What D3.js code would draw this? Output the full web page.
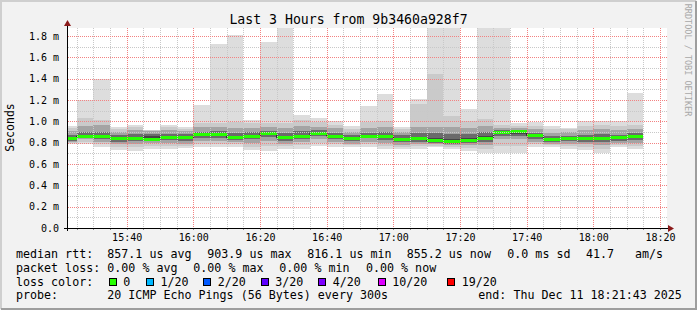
<!DOCTYPE html>
<html>
<head>
<meta charset="utf-8">
<script src="https://cdn.jsdelivr.net/npm/d3@7"></script>
<style>
  body { margin: 0; background: #f2f2f2; }
  svg { display: block; }
  text { font-family: "DejaVu Sans Mono", monospace; fill: #000; }
</style>
</head>
<body>
<svg id="chart" width="697" height="310"></svg>
<script>
/* ------------ Data ----------------*/
// end time of each 300s step (Dec 11 2025)
const binEnds = ['15:25', '15:30', '15:35', '15:40', '15:45', '15:50', '15:55', '16:00', '16:05', '16:10',
  '16:15', '16:20', '16:25', '16:30', '16:35', '16:40', '16:45', '16:50', '16:55', '17:00',
  '17:05', '17:10', '17:15', '17:20', '17:25', '17:30', '17:35', '17:40', '17:45', '17:50',
  '17:55', '18:00', '18:05', '18:10', '18:15'];

// sorted ping rtt per step, in ms
const ping20 = [0.956, 1.20, 1.40, 0.95, 0.965, 0.92, 0.97, 0.95, 1.153, 1.725, 1.81, 1.01, 1.747, 1.95, 1.06, 1.035, 1.005,
  0.956, 1.144, 1.256, 0.95, 1.21, 2.30, 2.00, 1.116, 2.10, 1.95, 0.987, 0.997, 0.956, 0.935, 1.006, 1.006, 1.006, 1.268];
const ping19 = [0.935, 1.03, 1.01, 0.93, 0.95, 0.915, 0.95, 0.93, 0.98, 0.98, 0.99, 0.98, 0.98, 0.98, 1.01, 0.99, 0.97,
  0.93, 0.99, 1.00, 0.93, 1.163, 1.444, 1.05, 1.00, 1.02, 0.966, 0.96, 0.96, 0.93, 0.925, 0.96, 0.97, 0.96, 0.97];
const ping17 = [0.905, 0.96, 0.97, 0.90, 0.92, 0.905, 0.92, 0.905, 0.95, 0.95, 0.94, 0.94, 0.95, 0.94, 0.96, 0.95, 0.94,
  0.90, 0.94, 0.95, 0.90, 0.95, 0.95, 0.95, 0.94, 0.96, 0.94, 0.94, 0.93, 0.895, 0.90, 0.92, 0.93, 0.92, 0.93];
const ping14 = [0.875, 0.90, 0.90, 0.87, 0.88, 0.885, 0.885, 0.88, 0.90, 0.91, 0.89, 0.90, 0.91, 0.89, 0.905, 0.92, 0.89,
  0.87, 0.89, 0.90, 0.87, 0.89, 0.89, 0.88, 0.88, 0.90, 0.915, 0.915, 0.89, 0.86, 0.865, 0.87, 0.88, 0.87, 0.895];
const ping12 = [0.855, 0.875, 0.875, 0.85, 0.855, 0.86, 0.865, 0.86, 0.882, 0.885, 0.86, 0.875, 0.90, 0.86, 0.875, 0.90, 0.87,
  0.85, 0.87, 0.87, 0.845, 0.855, 0.84, 0.835, 0.84, 0.86, 0.905, 0.905, 0.875, 0.84, 0.85, 0.85, 0.85, 0.855, 0.865];
const median = [0.841, 0.8625, 0.8625, 0.841, 0.841, 0.834, 0.853, 0.847, 0.872, 0.875, 0.844, 0.8625, 0.887, 0.844, 0.8625, 0.89, 0.8625,
  0.84, 0.86, 0.856, 0.834, 0.838, 0.816, 0.813, 0.822, 0.838, 0.897, 0.904, 0.866, 0.831, 0.84, 0.838, 0.838, 0.844, 0.855];
const ping9 = [0.832, 0.855, 0.85, 0.83, 0.83, 0.825, 0.84, 0.835, 0.86, 0.862, 0.835, 0.85, 0.87, 0.83, 0.85, 0.875, 0.85,
  0.83, 0.85, 0.84, 0.82, 0.825, 0.805, 0.80, 0.81, 0.825, 0.88, 0.885, 0.85, 0.82, 0.83, 0.825, 0.825, 0.83, 0.84];
const ping7 = [0.82, 0.845, 0.835, 0.81, 0.815, 0.815, 0.825, 0.82, 0.845, 0.845, 0.825, 0.835, 0.855, 0.815, 0.835, 0.86, 0.835,
  0.815, 0.84, 0.825, 0.805, 0.81, 0.795, 0.79, 0.795, 0.81, 0.86, 0.865, 0.835, 0.81, 0.815, 0.81, 0.81, 0.815, 0.825];
const ping4 = [0.805, 0.83, 0.81, 0.785, 0.79, 0.80, 0.80, 0.79, 0.82, 0.82, 0.81, 0.80, 0.82, 0.79, 0.81, 0.83, 0.81,
  0.79, 0.81, 0.80, 0.78, 0.79, 0.785, 0.775, 0.775, 0.78, 0.83, 0.83, 0.81, 0.79, 0.79, 0.79, 0.78, 0.795, 0.80];
const ping2 = [0.795, 0.81, 0.79, 0.76, 0.755, 0.77, 0.77, 0.77, 0.79, 0.79, 0.79, 0.76, 0.77, 0.765, 0.78, 0.80, 0.785,
  0.775, 0.785, 0.77, 0.76, 0.765, 0.77, 0.76, 0.75, 0.74, 0.77, 0.77, 0.785, 0.775, 0.765, 0.76, 0.74, 0.775, 0.77];
const ping1 = [0.785, 0.785, 0.76, 0.73, 0.725, 0.74, 0.74, 0.753, 0.76, 0.757, 0.76, 0.73, 0.725, 0.744, 0.744, 0.77, 0.76,
  0.76, 0.757, 0.74, 0.74, 0.74, 0.757, 0.74, 0.725, 0.70, 0.706, 0.706, 0.757, 0.757, 0.744, 0.73, 0.706, 0.757, 0.74];

const yTicks = [0, 0.2, 0.4, 0.6, 0.8, 1.0, 1.2, 1.4, 1.6, 1.8];
const yTickLabels = ['0.0', '0.2 m', '0.4 m', '0.6 m', '0.8 m', '1.0 m', '1.2 m', '1.4 m', '1.6 m', '1.8 m'];

const rttStats = ['857.1 us avg', '903.9 us max', '816.1 us min', '855.2 us now', '0.0 ms sd', '41.7', 'am/s'];
const lossStats = ['0.00 % avg', '0.00 % max', '0.00 % min', '0.00 % now'];
const lossLabels = ['0', '1/20', '2/20', '3/20', '4/20', '10/20', '19/20'];
const lossColors = ['#26ff00', '#00b8ff', '#0059ff', '#5e00ff', '#7e00ff', '#dd00ff', '#ff0000'];

/* ------------ Setup ----------------*/
const W = 697, H = 310;
const plotLeft = 67, plotTop = 28, plotW = 600, plotH = 200;
const parse = d3.timeParse('%Y-%m-%d %H:%M:%S');
const svg = d3.select('#chart');

const x = d3.scaleTime()
  .domain([parse('2025-12-11 15:22:06'), parse('2025-12-11 18:22:06')])
  .range([plotLeft, plotLeft + plotW]);
const y = d3.scaleLinear()
  .domain([0, 1.875])
  .range([plotTop + plotH, plotTop]);

const bins = binEnds.map((t, i) => {
  const end = parse('2025-12-11 ' + t + ':00');
  return { start: d3.timeMinute.offset(end, -5), end: end, i: i };
});

const defs = svg.append('defs');
const createDots = (id, w, h, color) => {
  const p = defs.append('pattern')
    .attr('id', id)
    .attr('patternUnits', 'userSpaceOnUse')
    .attr('width', w).attr('height', h);
  p.append('rect').attr('width', 1).attr('height', 1).attr('fill', color);
};
createDots('vMinor', 1, 2, '#c8c8c8');
createDots('hMinor', 2, 1, '#c8c8c8');
createDots('vMajor', 1, 2, '#f28282');
createDots('hMajor', 2, 1, '#f28282');

// frame
svg.append('rect').attr('width', W).attr('height', H).attr('fill', '#f2f2f2');
svg.append('path').attr('d', `M1,${H - 1} V1 H${W - 1}`).attr('fill', 'none').attr('stroke', '#cfcfcf').attr('stroke-width', 2);
svg.append('path').attr('d', `M1,${H - 1} H${W - 1} V1`).attr('fill', 'none').attr('stroke', '#9e9e9e').attr('stroke-width', 2);

svg.append('rect').attr('x', plotLeft).attr('y', plotTop).attr('width', plotW).attr('height', plotH).attr('fill', '#ffffff');

svg.append('clipPath').attr('id', 'plotClip')
  .append('rect').attr('x', plotLeft).attr('y', plotTop).attr('width', plotW).attr('height', plotH);

/* ------------ Smoke ----------------*/
const layers = [
  { lo: ping1, hi: ping20, color: '#dddddd' },
  { lo: ping2, hi: ping19, color: '#cacaca' },
  { lo: ping4, hi: ping17, color: '#a4a4a4' },
  { lo: ping7, hi: ping14, color: '#6b6b6b' },
  { lo: ping9, hi: ping12, color: '#454545' }
];

const plot = svg.append('g').attr('clip-path', 'url(#plotClip)');

layers.forEach((layer, li) => {
  plot.append('g').attr('class', 'smoke' + li)
    .selectAll('rect')
    .data(bins)
    .join('rect')
    .attr('x', d => x(d.start))
    .attr('width', d => x(d.end) - x(d.start))
    .attr('y', d => y(layer.hi[d.i]))
    .attr('height', d => y(layer.lo[d.i]) - y(layer.hi[d.i]))
    .attr('fill', layer.color)
    .attr('shape-rendering', 'crispEdges');
});

// median: dark step line + loss coloured band
const medPts = [];
bins.forEach(d => {
  medPts.push([x(d.start), y(median[d.i])]);
  medPts.push([x(d.end), y(median[d.i])]);
});
plot.append('path')
  .attr('d', d3.line()(medPts))
  .attr('fill', 'none')
  .attr('stroke', '#202020')
  .attr('stroke-width', 1);

plot.append('g').attr('class', 'medianBand')
  .selectAll('rect')
  .data(bins)
  .join('rect')
  .attr('x', d => x(d.start))
  .attr('width', d => x(d.end) - x(d.start))
  .attr('y', d => y(median[d.i]) - 1.5)
  .attr('height', 3)
  .attr('fill', lossColors[0])
  .attr('shape-rendering', 'crispEdges');

/* ------------ Grid ----------------*/
const grid = svg.append('g').attr('class', 'grid').attr('shape-rendering', 'crispEdges');
const majorX = x.ticks(d3.timeMinute.every(20));
const majorXs = majorX.map(d => +d);
const minorX = x.ticks(d3.timeMinute.every(5)).filter(d => !majorXs.includes(+d));
const minorY = d3.range(0.1, 1.85, 0.2);

const vLine = (cls, data, pat) => {
  grid.selectAll('rect.' + cls)
    .data(data)
    .join('rect')
    .attr('class', cls)
    .attr('x', d => Math.round(x(d))).attr('width', 1)
    .attr('y', plotTop).attr('height', plotH)
    .attr('fill', `url(#${pat})`);
};
const hLine = (cls, data, pat) => {
  grid.selectAll('rect.' + cls)
    .data(data)
    .join('rect')
    .attr('class', cls)
    .attr('x', plotLeft).attr('width', plotW + 1)
    .attr('y', d => Math.round(y(d))).attr('height', 1)
    .attr('fill', `url(#${pat})`);
};
vLine('minorX', minorX, 'vMinor');
hLine('minorY', minorY, 'hMinor');
vLine('majorX', majorX, 'vMajor');
hLine('majorY', yTicks.slice(1), 'hMajor');

/* ------------ Axes ----------------*/
const yAxis = svg.append('g')
  .attr('transform', `translate(${plotLeft},0)`)
  .call(d3.axisLeft(y).tickValues(yTicks).tickSize(0).tickPadding(8)
    .tickFormat((d, i) => yTickLabels[i]));
yAxis.select('.domain').remove();
yAxis.selectAll('text').attr('font-size', '10px').attr('font-family', '"DejaVu Sans Mono", monospace').attr('fill', '#000');

const xAxis = svg.append('g')
  .attr('transform', `translate(0,${plotTop + plotH})`)
  .call(d3.axisBottom(x).ticks(d3.timeMinute.every(20)).tickSize(0).tickPadding(5.6)
    .tickFormat(d3.timeFormat('%H:%M')));
xAxis.select('.domain').remove();
xAxis.selectAll('text').attr('font-size', '10px').attr('font-family', '"DejaVu Sans Mono", monospace').attr('fill', '#000');

// small tick marks below the x axis
svg.append('g').attr('shape-rendering', 'crispEdges').selectAll('line')
  .data(x.ticks(d3.timeMinute.every(5)))
  .join('line')
  .attr('x1', d => Math.round(x(d)) + 0.5).attr('x2', d => Math.round(x(d)) + 0.5)
  .attr('y1', plotTop + plotH).attr('y2', plotTop + plotH + 2)
  .attr('stroke', '#8c8c8c');

// axis lines with arrows
svg.append('line')
  .attr('x1', plotLeft - 3).attr('x2', plotLeft + plotW + 2)
  .attr('y1', plotTop + plotH + 0.5).attr('y2', plotTop + plotH + 0.5)
  .attr('stroke', '#000');
svg.append('line')
  .attr('x1', plotLeft + 0.5).attr('x2', plotLeft + 0.5)
  .attr('y1', plotTop + plotH + 3).attr('y2', plotTop - 5)
  .attr('stroke', '#000');
svg.append('path')
  .attr('d', `M${plotLeft + plotW + 1},${plotTop + plotH - 3} L${plotLeft + plotW + 7},${plotTop + plotH + 0.5} L${plotLeft + plotW + 1},${plotTop + plotH + 4} Z`)
  .attr('fill', '#8b1a1a');
svg.append('path')
  .attr('d', `M${plotLeft - 3},${plotTop - 2} L${plotLeft + 0.5},${plotTop - 8} L${plotLeft + 4},${plotTop - 2} Z`)
  .attr('fill', '#8b1a1a');

/* ------------ Texts ----------------*/
svg.append('text')
  .attr('x', 348.5).attr('y', 24)
  .attr('text-anchor', 'middle')
  .attr('font-size', '13.2px')
  .text('Last 3 Hours from 9b3460a928f7');

svg.append('text')
  .attr('transform', 'translate(14,127.5) rotate(-90)')
  .attr('text-anchor', 'middle')
  .attr('font-size', '11.5px')
  .text('Seconds');

svg.append('text')
  .attr('transform', 'translate(685,60) rotate(90)')
  .attr('text-anchor', 'middle')
  .attr('font-size', '8.5px')
  .style('fill', '#a8a8a8')
  .text('RRDTOOL / TOBI OETIKER');

const legend = svg.append('g').attr('font-size', '11.66px');
const createText = (xPos, yPos, txt) => {
  legend.append('text').attr('x', xPos).attr('y', yPos).attr('xml:space', 'preserve').text(txt);
};

createText(16, 258, 'median rtt:');
[107.3, 207.3, 307.3, 406.7, 507.3, 586, 635].forEach((xp, i) => createText(xp, 258, rttStats[i]));

createText(16, 271.7, 'packet loss:');
[107.3, 193.3, 279.3, 366].forEach((xp, i) => createText(xp, 271.7, lossStats[i]));

createText(16, 285.5, 'loss color:');
[108.7, 146, 203.3, 260.7, 318.3, 377.7, 447.3].forEach((xp, i) => {
  legend.append('rect')
    .attr('x', Math.round(xp) + 0.5).attr('y', 278.5)
    .attr('width', 7).attr('height', 7)
    .attr('fill', lossColors[i])
    .attr('stroke', '#000');
  createText(xp + 14.5, 285.5, lossLabels[i]);
});

createText(16, 299, 'probe:');
createText(107.3, 299, '20 ICMP Echo Pings (56 Bytes) every 300s');
createText(478.3, 299, 'end: Thu Dec 11 18:21:43 2025');
</script>
</body>
</html>
